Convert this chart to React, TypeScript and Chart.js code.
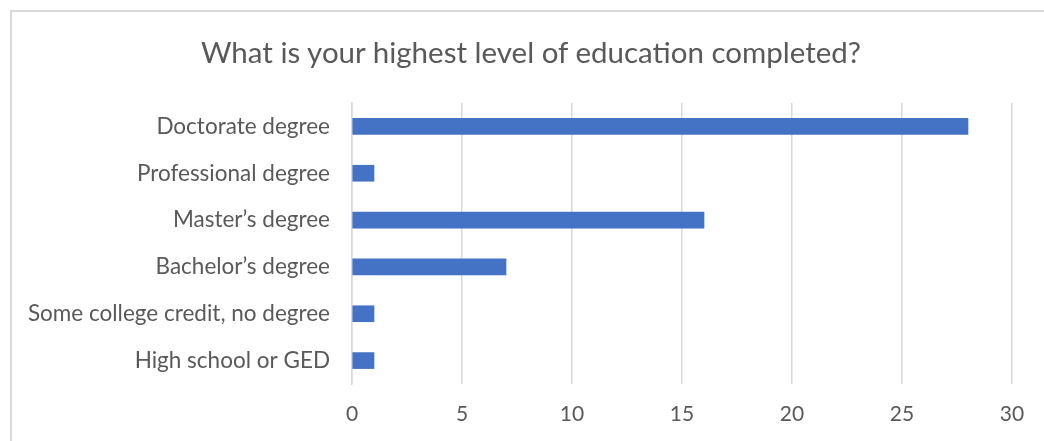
import React, { useEffect, useRef } from "react";
import { Chart, registerables } from "chart.js";

Chart.register(...registerables);

const TITLE = "What is your highest level of education completed?";
const categories = [
  "Doctorate degree",
  "Professional degree",
  "Master\u2019s degree",
  "Bachelor\u2019s degree",
  "Some college credit, no degree",
  "High school or GED",
];
const counts = [28, 1, 16, 7, 1, 1];
const xTicks = [0, 5, 10, 15, 20, 25, 30];

const W = 1044;
const H = 441;

export default function App() {
  const ref = useRef<HTMLCanvasElement | null>(null);

  useEffect(() => {
    const prevMargin = document.body.style.margin;
    const prevOverflow = document.body.style.overflow;
    document.body.style.margin = "0";
    document.body.style.overflow = "hidden";
    if (!ref.current) return;
    const chart = new Chart(ref.current, {
      type: "bar",
      data: {
        labels: categories,
        datasets: [
          {
            data: counts,
            backgroundColor: "#4472C4",
            borderWidth: 0,
            barThickness: 16,
          },
        ],
      },
      options: {
        indexAxis: "y",
        responsive: false,
        animation: false,
        devicePixelRatio: 1,
        layout: { padding: { top: 103, right: 32, bottom: 0, left: 0 } },
        plugins: {
          legend: { display: false },
          tooltip: { enabled: false },
          title: { display: false },
        },
        scales: {
          x: {
            min: 0,
            max: 30,
            afterBuildTicks: (scale: any) => {
              scale.ticks = xTicks.map((v) => ({ value: v }));
            },
            afterFit: (scale: any) => {
              scale.height = 57;
            },
            ticks: {
              color: "#595959",
              font: { family: "Lato", size: 21 },
              padding: 18,
            },
            grid: {
              color: "#d9d9d9",
              lineWidth: 1.5,
              drawTicks: false,
            },
            border: { display: false },
          },
          y: {
            afterFit: (scale: any) => {
              scale.width = 352;
            },
            ticks: {
              color: "#595959",
              font: { family: "Lato", size: 22.5 },
              padding: 22,
            },
            grid: { display: false, drawTicks: false },
            border: { display: true, color: "#d9d9d9", width: 1.5 },
          },
        },
      },
    });
    return () => {
      chart.destroy();
      document.body.style.margin = prevMargin;
      document.body.style.overflow = prevOverflow;
    };
  }, []);

  return (
    <div
      style={{
        position: "fixed",
        left: 0,
        top: 0,
        width: W,
        height: H,
        overflow: "hidden",
        background: "#ffffff",
      }}
    >
      <div
        style={{
          position: "absolute",
          left: 10,
          top: 10,
          width: W + 20,
          height: H + 20,
          borderLeft: "2px solid #d9d9d9",
          borderTop: "2px solid #d9d9d9",
        }}
      />
      <canvas
        ref={ref}
        width={W}
        height={H}
        style={{ position: "absolute", left: 0, top: 0, width: W, height: H }}
      />
      <div
        style={{
          position: "absolute",
          left: 31,
          width: 1000,
          top: 34,
          height: 36,
          lineHeight: "36px",
          textAlign: "center",
          fontFamily: "Lato",
          fontSize: 29.5,
          color: "#595959",
          whiteSpace: "nowrap",
        }}
      >
        {TITLE}
      </div>
    </div>
  );
}
